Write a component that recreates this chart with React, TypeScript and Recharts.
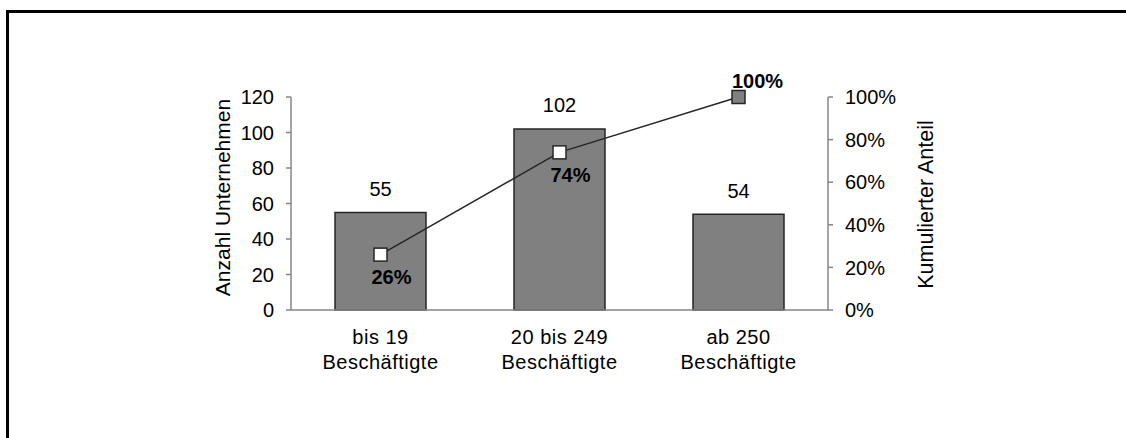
import React from "react";
import {
  ComposedChart,
  Bar,
  Line,
  XAxis,
  YAxis,
  LabelList,
} from "recharts";

const categories = ["bis 19\nBeschäftigte", "20 bis 249\nBeschäftigte", "ab 250\nBeschäftigte"];
const companyCounts = [55, 102, 54];
const cumulativeShare = [26, 74, 100];
const leftTicks = [0, 20, 40, 60, 80, 100, 120];
const rightTicks = [0, 20, 40, 60, 80, 100];
const boundaryTicks = [0, 1, 2, 3];

const data = categories.map((c, i) => ({
  name: c,
  count: companyCounts[i],
  share: cumulativeShare[i],
}));

const FONT = "'Liberation Sans', Arial, sans-serif";
const AXIS = "#868686";
const FS = 20;

const CategoryTick = (props: any) => {
  const { x, y, payload } = props;
  const lines = String(payload.value).split("\n");
  return (
    <g>
      {lines.map((l: string, i: number) => (
        <text
          key={i}
          x={x}
          y={y + 26 + i * 25}
          textAnchor="middle"
          fontFamily={FONT}
          fontSize={FS}
          letterSpacing={0.5}
          fill="#000"
        >
          {l}
        </text>
      ))}
    </g>
  );
};

const SquareDot = (props: any) => {
  const { cx, cy, index } = props;
  const last = index === data.length - 1;
  const s = 13;
  return (
    <rect
      key={index}
      x={cx - s / 2}
      y={cy - s / 2}
      width={s}
      height={s}
      fill={last ? "#808080" : "#ffffff"}
      stroke="#262626"
      strokeWidth={1.5}
    />
  );
};

const ShareLabel = (props: any) => {
  const { x, y, value, index } = props;
  const last = index === data.length - 1;
  return (
    <text
      x={last ? x + 19 : x + 11}
      y={last ? y - 9 : y + 29.5}
      textAnchor="middle"
      fontFamily={FONT}
      fontSize={FS}
      fontWeight="bold"
      fill="#000"
    >
      {`${value}%`}
    </text>
  );
};

export default function App() {
  return (
    <div
      style={{
        position: "absolute",
        left: 0,
        top: 0,
        width: 1126,
        height: 438,
        overflow: "hidden",
        background: "#fff",
      }}
    >
      <div
        style={{
          position: "absolute",
          left: 6,
          top: 10,
          width: 1300,
          height: 600,
          border: "3px solid #000",
          boxSizing: "border-box",
        }}
      />
      <div style={{ position: "absolute", left: 0, top: 0 }}>
        <ComposedChart
          width={1126}
          height={438}
          data={data}
          margin={{ top: 97, right: 238, bottom: 68, left: 231 }}
        >
          <XAxis
            dataKey="name"
            xAxisId="cat"
            stroke={AXIS}
            strokeWidth={1.5}
            tickLine={false}
            tick={<CategoryTick />}
            interval={0}
            height={60}
          />
          <XAxis
            xAxisId="bounds"
            type="number"
            domain={[0, 3]}
            ticks={boundaryTicks}
            allowDataOverflow
            axisLine={false}
            tick={false}
            tickLine={{ stroke: AXIS, strokeWidth: 1.5 }}
            tickSize={5}
            height={0}
          />
          <YAxis
            yAxisId="left"
            domain={[0, 120]}
            ticks={leftTicks}
            width={60}
            stroke={AXIS}
            strokeWidth={1.5}
            tickSize={5}
            tickMargin={12}
            tick={{ fill: "#000", fontFamily: FONT, fontSize: FS }}
            label={{
              content: () => (
                <text
                  x={222}
                  y={197.5}
                  transform="rotate(-90 222 197.5)"
                  textAnchor="middle"
                  dominantBaseline="central"
                  fontFamily={FONT}
                  fontSize={21}
                  fill="#000"
                >
                  Anzahl Unternehmen
                </text>
              ),
            }}
          />
          <YAxis
            yAxisId="right"
            orientation="right"
            domain={[0, 100]}
            ticks={rightTicks}
            width={60}
            stroke={AXIS}
            strokeWidth={1.5}
            tickSize={5}
            tickMargin={12}
            tickFormatter={(v: number) => `${v}%`}
            tick={{ fill: "#000", fontFamily: FONT, fontSize: FS }}
            label={{
              content: () => (
                <text
                  x={926}
                  y={204.5}
                  transform="rotate(-90 926 204.5)"
                  textAnchor="middle"
                  dominantBaseline="central"
                  fontFamily={FONT}
                  fontSize={21.5}
                  fill="#000"
                >
                  Kumulierter Anteil
                </text>
              ),
            }}
          />
          <Bar
            dataKey="count"
            xAxisId="cat"
            yAxisId="left"
            barSize={91}
            fill="#808080"
            stroke="#262626"
            strokeWidth={1.5}
            isAnimationActive={false}
          >
            <LabelList
              dataKey="count"
              position="top"
              offset={16.5}
              fill="#000"
              fontFamily={FONT}
              fontSize={FS}
            />
          </Bar>
          <Line
            dataKey="share"
            xAxisId="cat"
            yAxisId="right"
            stroke="#262626"
            strokeWidth={1.5}
            dot={<SquareDot />}
            activeDot={false}
            isAnimationActive={false}
          >
            <LabelList dataKey="share" content={<ShareLabel />} />
          </Line>
        </ComposedChart>
      </div>
    </div>
  );
}
